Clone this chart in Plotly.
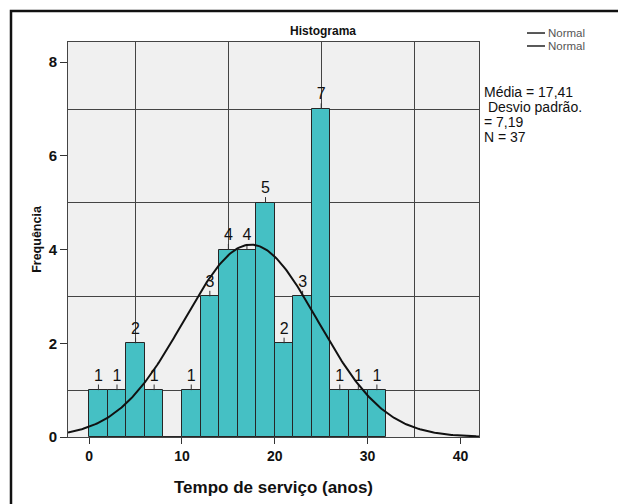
import numpy as np
import plotly.graph_objects as go

# ---- data ----
bin_starts = [0, 2, 4, 6, 8, 10, 12, 14, 16, 18, 20, 22, 24, 26, 28, 30]
counts = [1, 1, 2, 1, 0, 1, 3, 4, 4, 5, 2, 3, 7, 1, 1, 1]
bin_width = 2
mean_val = 17.41
sd_val = 7.19
n_val = 37
x_ticks = [0, 10, 20, 30, 40]
y_ticks = [0, 2, 4, 6, 8]
title_text = "Histograma"
x_title = "Tempo de serviço (anos)"
y_title = "Frequência"
stats_lines = ["Média = 17,41", " Desvio padrão.", "= 7,19", "N = 37"]
legend_names = ["Normal", "Normal"]

# page body has an 8px default margin; work in screen pixels and convert
OFF = 8
W, H = 626 - OFF, 504 - OFF
SL, SR, ST, SB = 68, 479, 42, 437.5          # plot area in screen pixels
L, R, T, B = SL - OFF, SR - OFF, ST - OFF, SB - OFF
FONT = "Liberation Sans, Arial, sans-serif"


def px(xs_, ys_):
    """screen pixel -> paper coordinates"""
    return (xs_ - SL) / (SR - SL), (SB - ys_) / (SB - ST)


centers = [s + bin_width / 2 for s in bin_starts]
lab_x = [c for c, n in zip(centers, counts) if n > 0]
lab_y = [n + 0.12 for n in counts if n > 0]
lab_t = [str(n) for n in counts if n > 0]

fig = go.Figure()
fig.add_trace(go.Bar(
    x=centers, y=counts, width=bin_width,
    marker=dict(color="#45C0C4", line=dict(color="#262626", width=1)),
    error_y=dict(type="data", symmetric=False,
                 array=[0.12 if c > 0 else 0 for c in counts],
                 arrayminus=[0] * len(counts),
                 color="#333", thickness=1, width=0),
    showlegend=False, hoverinfo="skip",
))

xs = np.linspace(-2.28, 42.0, 300)
ys = n_val * bin_width / (sd_val * np.sqrt(2 * np.pi)) * np.exp(-0.5 * ((xs - mean_val) / sd_val) ** 2)
fig.add_trace(go.Scatter(x=xs, y=ys, mode="lines",
                         line=dict(color="#111", width=2),
                         showlegend=False, hoverinfo="skip"))

fig.add_trace(go.Scatter(x=lab_x, y=lab_y, mode="text", text=lab_t,
                         textposition="top center", cliponaxis=False,
                         textfont=dict(family=FONT, size=16, color="#111"),
                         showlegend=False, hoverinfo="skip"))

fig.update_layout(
    width=W, height=H,
    margin=dict(l=L, r=W - R, t=T, b=H - B, autoexpand=False),
    paper_bgcolor="white", plot_bgcolor="#F0F0F0",
    bargap=0,
    font=dict(family=FONT, color="#111"),
)
fig.update_xaxes(
    range=[-2.28, 42.0], tickvals=x_ticks, ticktext=[str(v) for v in x_ticks],
    ticks="outside", ticklen=6, tickcolor="#333",
    tickfont=dict(family=FONT, size=14, weight="bold"),
    showgrid=False, zeroline=False,
    showline=True, linecolor="#444", linewidth=1, mirror=True,
    minor=dict(tick0=5, dtick=10, showgrid=True, gridcolor="#444", gridwidth=1, ticks=""),
    title=dict(text=x_title, font=dict(family=FONT, size=17, weight="bold"), standoff=18),
)
fig.update_yaxes(
    range=[0, 8.43], tickvals=y_ticks, ticktext=[str(v) for v in y_ticks],
    ticks="outside", ticklen=7, tickcolor="#333",
    tickfont=dict(family=FONT, size=15, weight="bold"),
    showgrid=False, zeroline=False,
    showline=True, linecolor="#444", linewidth=1, mirror=True,
    minor=dict(tick0=1, dtick=2, showgrid=True, gridcolor="#444", gridwidth=1, ticks=""),
    title=dict(text=y_title, font=dict(family=FONT, size=12.5, weight="bold"), standoff=4),
)

# outer frame
x0, y0 = px(11, 11)
x1, y1 = px(660, 540)
fig.add_shape(type="rect", xref="paper", yref="paper", x0=x0, y0=y1, x1=x1, y1=y0,
              line=dict(color="#111", width=2.5), layer="above")

# chart title
tx, ty = px(323, 31)
fig.add_annotation(x=tx, y=ty, xref="paper", yref="paper", text="<b>" + title_text + "</b>",
                   showarrow=False, font=dict(family=FONT, size=12, color="#111"),
                   xanchor="center", yanchor="middle")

# legend (two "Normal" entries)
for i, name in enumerate(legend_names):
    yy = 33 + i * 13
    lx0, ly = px(527, yy)
    lx1, _ = px(545, yy)
    fig.add_shape(type="line", xref="paper", yref="paper", x0=lx0, x1=lx1, y0=ly, y1=ly,
                  line=dict(color="#222", width=1.5))
    tx2, _ = px(547, yy)
    fig.add_annotation(x=tx2, y=ly, xref="paper", yref="paper", text=name, showarrow=False,
                       font=dict(family=FONT, size=11.5, color="#555"), borderpad=0,
                       xanchor="left", yanchor="middle")

# statistics block
for i, line in enumerate(stats_lines):
    sx, sy = px(483, 92 + i * 15)
    txt = ("&nbsp;" + line[1:]) if line.startswith(" ") else line
    fig.add_annotation(x=sx, y=sy, xref="paper", yref="paper", text=txt,
                       showarrow=False, font=dict(family=FONT, size=14, color="#111"),
                       borderpad=0, xanchor="left", yanchor="middle")

fig.write_html("out.html")
